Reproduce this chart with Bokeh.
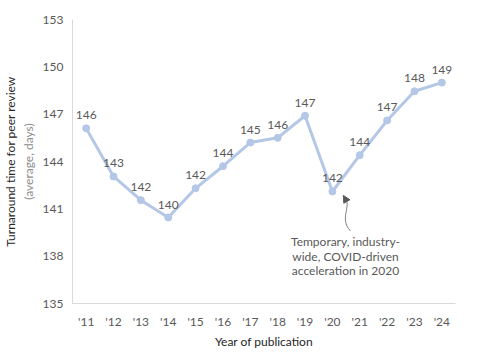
from bokeh.plotting import figure
from bokeh.models import (Range1d, FixedTicker, Label, ColumnDataSource, LabelSet,
                          Arrow, NormalHead, Bezier, Title)
from bokeh.core.properties import value
from bokeh.embed import file_html
from bokeh.resources import INLINE

years = ["'11", "'12", "'13", "'14", "'15", "'16", "'17", "'18", "'19", "'20", "'21", "'22", "'23", "'24"]
turnaround = [146.1, 143.05, 141.55, 140.45, 142.3, 143.7, 145.2, 145.5, 146.9, 142.1, 144.4, 146.6, 148.45, 149.0]
value_labels = ["146", "143", "142", "140", "142", "144", "145", "146", "147", "142", "144", "147", "148", "149"]
y_ticks = [135, 138, 141, 144, 147, 150, 153]

xs = list(range(1, len(years) + 1))
FONT = "Lato"
GRAY = "#595959"
LINE = "#b4c7e7"

p = figure(width=479, height=352, output_backend="svg", toolbar_location=None,
           x_range=Range1d(0.5, len(years) + 0.5), y_range=Range1d(135, 153),
           min_border_left=72, min_border_right=24, min_border_top=19, min_border_bottom=49)
p.outline_line_color = None
p.grid.visible = False
p.background_fill_color = "white"

src = ColumnDataSource(dict(x=xs, y=turnaround, lab=value_labels))
p.line("x", "y", source=src, line_color=LINE, line_width=3)
p.scatter("x", "y", source=src, size=7, fill_color=LINE, line_color=LINE)

labels = LabelSet(x="x", y="y", text="lab", source=src, y_offset=9,
                  text_align="center", text_baseline="bottom",
                  text_font=value(FONT), text_font_size="12px", text_color=GRAY)
p.add_layout(labels)

# axes
p.xaxis.ticker = FixedTicker(ticks=xs)
p.xaxis.major_label_overrides = {x: y for x, y in zip(xs, years)}
p.yaxis.ticker = FixedTicker(ticks=y_ticks)
for ax in (p.xaxis[0], p.yaxis[0]):
    ax.axis_line_color = "#d9d9d9"
    ax.axis_line_width = 1
    ax.major_tick_line_color = None
    ax.minor_tick_line_color = None
    ax.major_tick_out = 0
    ax.major_tick_in = 0
    ax.minor_tick_out = 0
    ax.minor_tick_in = 0
    ax.major_label_text_font = FONT
    ax.major_label_text_font_size = "12px"
    ax.major_label_text_color = GRAY

p.xaxis.major_label_standoff = 10
p.yaxis.major_label_standoff = 9

p.xaxis.axis_label = "Year of publication"
p.xaxis.axis_label_text_font = FONT
p.xaxis.axis_label_text_font_size = "12px"
p.xaxis.axis_label_text_font_style = "normal"
p.xaxis.axis_label_text_color = "#262626"
p.xaxis.axis_label_standoff = 2

# y axis title (two lines, two colours)
p.yaxis.axis_label = "(average, days)"
p.yaxis.axis_label_text_font = FONT
p.yaxis.axis_label_text_font_size = "12px"
p.yaxis.axis_label_text_font_style = "normal"
p.yaxis.axis_label_text_color = "#8c8c8c"
p.yaxis.axis_label_standoff = 4
p.add_layout(Title(text="Turnaround time for peer review", align="center",
                   text_font=FONT, text_font_size="12px", text_font_style="normal",
                   text_color="#262626", standoff=0, offset=0), "left")

# annotation
ann_lines = ["Temporary, industry-", "wide, COVID-driven", "acceleration in 2020"]
for i, t in enumerate(ann_lines):
    p.add_layout(Label(x=10.48, y=138.93 - i * 0.92, text=t, text_align="center",
                       text_baseline="middle", text_font=FONT, text_font_size="12px",
                       text_color=GRAY))

p.add_glyph(Bezier(x0=10.66, y0=139.6, x1=10.44, y1=141.74,
                   cx0=10.22, cy0=140.4, cx1=10.74, cy1=141.2,
                   line_color="#7f7f7f", line_width=1))
p.add_layout(Arrow(x_start=10.5, y_start=141.55, x_end=10.4, y_end=141.85,
                   line_color="#7f7f7f", line_width=1,
                   end=NormalHead(size=7, fill_color="#595959", line_color="#595959")))

open("out.html", "w").write(file_html(p, INLINE))
